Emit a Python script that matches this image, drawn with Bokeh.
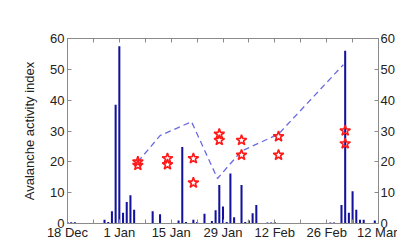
from bokeh.plotting import figure
from bokeh.models import Range1d, LinearAxis, FixedTicker, ColumnDataSource
from bokeh.embed import file_html
from bokeh.resources import INLINE

# Days counted from 18 Dec
bar_days = [0, 1, 2, 10, 11, 12, 13, 14, 15, 16, 17, 18, 23, 25, 30, 31, 32, 34, 35,
            37, 39, 40, 41, 42, 43, 44, 45, 47, 48, 49, 50, 51, 54, 55, 56, 71, 72,
            74, 75, 76, 77, 78, 79, 80, 83]
bar_values = [0.5, 0.4, 0.4, 1.2, 0.5, 4, 38.5, 57.5, 3.5, 7, 9.2, 4.5, 4, 3, 1, 24.8, 0.5, 1.2, 0.5,
              3.2, 0.8, 4.3, 12.5, 5.5, 0.5, 16.2, 2, 12.5, 0.5, 1, 3.3, 6, 0.3, 0.3, 0.4, 0.3, 0.3,
              6, 56, 3.5, 10.5, 4.5, 1.2, 1.2, 1]

line_days = [19, 25, 33.5, 40.5, 47, 57, 74.5]
line_values = [20, 28.5, 33, 14.6, 23.5, 29, 51.5]

star_days = [19, 19, 27, 27, 34, 34, 41, 41, 47, 47, 57, 57, 75, 75]
star_values = [20.0, 18.9, 21.1, 19.1, 21.1, 13.2, 29.0, 27.0, 27.0, 22.2, 28.2, 22.2, 30.1, 25.9]

tick_days = [0, 14, 28, 42, 56, 70, 84]
tick_labels = ["18 Dec", "1 Jan", "15 Jan", "29 Jan", "12 Feb", "26 Feb", "12 Mar"]
minor_days = [7, 21, 35, 49, 63, 77]
y_ticks = [0, 10, 20, 30, 40, 50, 60]

FONT = "Liberation Sans"
TXT = "#222222"
AX = "#8a8a8a"

p = figure(width=397, height=242, output_backend="svg", toolbar_location=None,
           x_range=Range1d(0, 84), y_range=Range1d(0, 60),
           min_border_left=67, min_border_right=14, min_border_top=38, min_border_bottom=18)
p.background_fill_color = "white"
p.border_fill_color = "white"
p.outline_line_color = AX
p.grid.visible = False

bars = ColumnDataSource(dict(x=bar_days, top=bar_values))
p.vbar(x="x", top="top", bottom=0, width=0.55, source=bars,
       fill_color="#12129c", line_color=None)

p.line(line_days, line_values, line_color="#6a6ae0", line_width=1.3, line_dash="6 4")

p.scatter(star_days, star_values, marker="star", size=11, fill_color=None,
          line_color="#ff1a1a", line_width=1.6)

def style(ax):
    ax.axis_line_color = AX
    ax.major_tick_line_color = AX
    ax.minor_tick_line_color = AX
    ax.major_tick_in = 4
    ax.major_tick_out = 0
    ax.minor_tick_in = 4
    ax.minor_tick_out = 0
    ax.major_label_text_font = FONT
    ax.major_label_text_font_size = "13px"
    ax.major_label_text_color = TXT

xa = p.xaxis[0]
style(xa)
xa.ticker = FixedTicker(ticks=tick_days, minor_ticks=minor_days)
xa.major_label_overrides = {d: l for d, l in zip(tick_days, tick_labels)}
xa.major_label_standoff = 1

top = LinearAxis(ticker=FixedTicker(ticks=tick_days, minor_ticks=minor_days))
style(top)
top.major_label_overrides = {d: "" for d in tick_days}
p.add_layout(top, "above")

ya = p.yaxis[0]
style(ya)
ya.ticker = FixedTicker(ticks=y_ticks)
ya.minor_tick_line_color = None
ya.axis_label = "Avalanche activity index"
ya.axis_label_text_font = FONT
ya.axis_label_text_font_size = "13px"
ya.axis_label_text_font_style = "normal"
ya.axis_label_text_color = TXT
ya.axis_label_standoff = 10
ya.major_label_standoff = 3

ra = LinearAxis(ticker=FixedTicker(ticks=y_ticks))
style(ra)
ra.minor_tick_line_color = None
ra.major_label_standoff = 2
p.add_layout(ra, "right")

open("out.html", "w").write(file_html(p, INLINE))
